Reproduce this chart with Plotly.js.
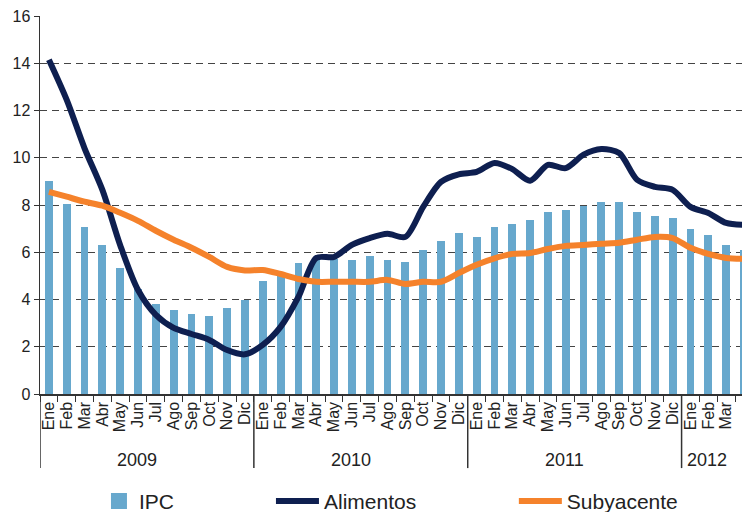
<!DOCTYPE html>
<html>
<head>
<meta charset="utf-8">
<script src="https://cdn.plot.ly/plotly-3.0.1.min.js"></script>
<style>
html,body{margin:0;padding:0;background:#fff;}
#chart{width:742px;height:512px;}
</style>
</head>
<body>
<div id="chart"></div>
<script>
// ---- data ----
var monthNames = ["Ene","Feb","Mar","Abr","May","Jun","Jul","Ago","Sep","Oct","Nov","Dic"];
var years = ["2009","2010","2011","2012"];
var monthsPerYear = [12, 12, 12, 4];

var ipc = [9.03, 8.05, 7.08, 6.31, 5.34, 4.45, 3.81, 3.56, 3.39, 3.30, 3.64, 3.98,
           4.79, 5.05, 5.53, 5.75, 5.72, 5.68, 5.85, 5.68, 5.59, 6.10, 6.48, 6.82,
           6.65, 7.08, 7.20, 7.37, 7.71, 7.80, 7.97, 8.14, 8.14, 7.71, 7.54, 7.46,
           6.99, 6.74, 6.31, 6.10];

var alimentos = [14.15, 12.45, 10.40, 8.64, 6.30, 4.40, 3.35, 2.80, 2.54, 2.29, 1.86, 1.68,
                 2.08, 2.84, 4.11, 5.76, 5.80, 6.31, 6.60, 6.78, 6.65, 7.92, 8.98, 9.30,
                 9.40, 9.78, 9.52, 9.03, 9.70, 9.56, 10.13, 10.37, 10.20, 9.07, 8.77, 8.64,
                 7.92, 7.66, 7.24, 7.16];

var subyacente = [8.56, 8.35, 8.14, 7.97, 7.67, 7.33, 6.91, 6.53, 6.19, 5.80, 5.38, 5.23,
                  5.25, 5.08, 4.87, 4.75, 4.75, 4.75, 4.75, 4.83, 4.66, 4.75, 4.75, 5.12,
                  5.47, 5.74, 5.93, 5.97, 6.14, 6.27, 6.31, 6.36, 6.40, 6.53, 6.65, 6.60,
                  6.19, 5.93, 5.76, 5.72];

// ---- derived ----
var tickText = [];
var yearStart = [];
for (var yi = 0; yi < years.length; yi++) {
  yearStart.push(tickText.length);
  for (var m = 0; m < monthsPerYear[yi]; m++) tickText.push(monthNames[m]);
}
var xIdx = tickText.map(function (_, i) { return i; });
var boundaries = [];
for (var b = 0; b <= tickText.length; b++) boundaries.push(b - 0.5);

var FONT = "Liberation Sans, Arial, sans-serif";
var TXT = "#222222";

var shapes = [];
yearStart.forEach(function (s) {
  shapes.push({type: "line", xref: "x", yref: "paper", x0: s - 0.5, x1: s - 0.5,
               y0: 0, y1: -0.196, line: {color: "#333333", width: 1.5}});
});
var annotations = years.map(function (yr, i) {
  var last = yearStart[i] + monthsPerYear[i] - 1;
  var center = (yearStart[i] + last) / 2 - 0.55;
  if (i === years.length - 1) center = yearStart[i] + 0.95;
  return {text: yr, xref: "x", yref: "paper", x: center, y: -0.175,
          showarrow: false, xanchor: "center", yanchor: "middle",
          font: {family: FONT, size: 18, color: TXT}};
});

var traces = [
  {type: "bar", name: "IPC", x: xIdx, y: ipc, width: 0.44,
   marker: {color: "#67A8CD"}, showlegend: false},
  // legend entry for the IPC bars (no data of its own)
  {type: "scatter", mode: "markers", name: "IPC", x: [null], y: [null],
   marker: {color: "#67A8CD", symbol: "square", size: 19}, legend: "legend"},
  {type: "scatter", mode: "lines", name: "Alimentos", x: xIdx, y: alimentos,
   line: {color: "#0E1F50", width: 6, shape: "spline", smoothing: 0.8}, legend: "legend2"},
  {type: "scatter", mode: "lines", name: "Subyacente", x: xIdx, y: subyacente,
   line: {color: "#F5822B", width: 6, shape: "spline", smoothing: 0.8}, legend: "legend3"}
];

var legendBase = function (x, iw) {
  return {x: x, y: 0.021, xref: "paper", yref: "container",
          xanchor: "left", yanchor: "middle", orientation: "h", itemwidth: iw,
          bgcolor: "rgba(0,0,0,0)", font: {family: FONT, size: 21, color: TXT}};
};

var layout = {
  width: 742, height: 512,
  margin: {l: 40, r: 0, t: 16, b: 118, pad: 0},
  paper_bgcolor: "#ffffff", plot_bgcolor: "#ffffff",
  font: {family: FONT, color: TXT},
  showlegend: true,
  bargap: 0,
  xaxis: {
    type: "linear", range: [-0.5, 38.89], fixedrange: true,
    tickmode: "array", tickvals: xIdx, ticktext: tickText, tickangle: -90,
    ticks: "", tickfont: {family: FONT, size: 16, color: TXT},
    showgrid: false, zeroline: false, showline: true, linecolor: "#333333", linewidth: 1.5,
    minor: {tickmode: "array", tickvals: boundaries, ticks: "outside", ticklen: 6,
            tickcolor: "#333333", tickwidth: 1, showgrid: false},
    automargin: false
  },
  yaxis: {
    range: [0, 16], dtick: 2, tick0: 0, fixedrange: true,
    ticks: "outside", ticklen: 5, tickcolor: "#333333",
    tickfont: {family: FONT, size: 16, color: TXT},
    showgrid: true, gridcolor: "#444444", gridwidth: 1, griddash: "7px,5px",
    zeroline: false, showline: true, linecolor: "#333333", linewidth: 1.5,
    automargin: false
  },
  shapes: shapes,
  annotations: annotations,
  legend: legendBase(0.084, 30),
  legend2: legendBase(0.329, 43),
  legend3: legendBase(0.675, 43)
};

Plotly.newPlot("chart", traces, layout, {displayModeBar: false, staticPlot: true});
</script>
</body>
</html>
